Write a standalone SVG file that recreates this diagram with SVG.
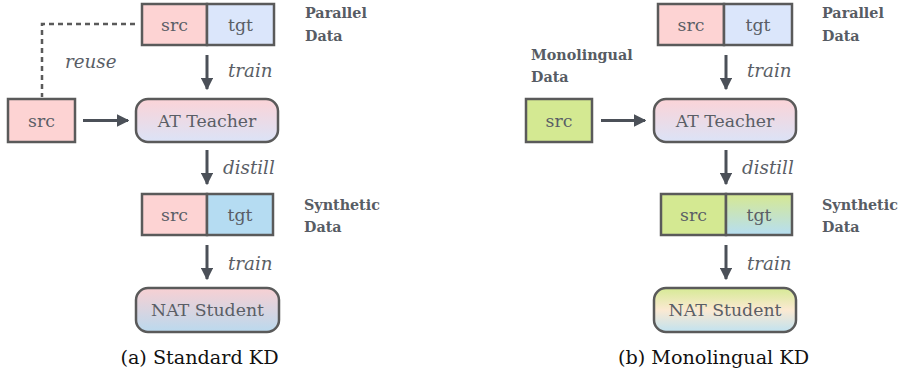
<svg xmlns="http://www.w3.org/2000/svg" width="899" height="373" viewBox="0 0 899 373">
<defs>
<style>
.box{stroke:#5a5a5a;stroke-width:2.5}
text{font-family:'DejaVu Serif',serif}
.t{font-size:17.3px;fill:#5a5e66;text-anchor:middle}
.it{font-size:18.3px;font-style:italic;fill:#5a5e66}
.lb{font-size:14.3px;font-weight:bold;fill:#575c64}
.cap{font-size:19.2px;fill:#111;text-anchor:middle}
.arr{stroke:#4b5058;stroke-width:3;fill:none;marker-end:url(#ah)}
</style>
<marker id="ah" viewBox="0 0 10 10" refX="9" refY="5" markerWidth="4.2" markerHeight="4.2" orient="auto" markerUnits="strokeWidth">
<path d="M0,0 L10,5 L0,10 Z" fill="#4b5058"/>
</marker>
<linearGradient id="gTeach" x1="0" y1="0" x2="0" y2="1">
<stop offset="0" stop-color="#fbd3d7"/><stop offset="1" stop-color="#dbe3f7"/>
</linearGradient>
<linearGradient id="gNatA" x1="0" y1="0" x2="0" y2="1">
<stop offset="0" stop-color="#f8d0d3"/><stop offset="1" stop-color="#bad9ee"/>
</linearGradient>
<linearGradient id="gNatB" x1="0" y1="0" x2="0" y2="1">
<stop offset="0" stop-color="#d6ea95"/><stop offset="0.5" stop-color="#fbe9d2"/><stop offset="1" stop-color="#c0e2f0"/>
</linearGradient>
<linearGradient id="gTgtB" x1="0" y1="0" x2="0" y2="1">
<stop offset="0" stop-color="#d6e892"/><stop offset="1" stop-color="#b6def2"/>
</linearGradient>
</defs>
<rect width="899" height="373" fill="#fff"/>

<g id="connectors">
<path d="M135,24 H42 V97" stroke="#5a5a5a" stroke-width="2.5" stroke-dasharray="5,4" fill="none"/>
<line class="arr" x1="207" y1="55" x2="207" y2="89"/>
<line class="arr" x1="83" y1="120.5" x2="128" y2="120.5"/>
<line class="arr" x1="207" y1="150" x2="207" y2="184"/>
<line class="arr" x1="207" y1="245" x2="207" y2="279"/>
<line class="arr" x1="726" y1="55" x2="726" y2="89"/>
<line class="arr" x1="601" y1="120.5" x2="645" y2="120.5"/>
<line class="arr" x1="726" y1="150" x2="726" y2="184"/>
<line class="arr" x1="726" y1="245" x2="726" y2="279"/>
<text class="it" x="65" y="68">reuse</text>
<text class="it" x="228" y="77">train</text>
<text class="it" x="223" y="174">distill</text>
<text class="it" x="228" y="270">train</text>
<text class="it" x="747" y="77">train</text>
<text class="it" x="742" y="174">distill</text>
<text class="it" x="747" y="270">train</text>
</g>

<g id="a-parallel">
<rect class="box" x="142" y="4" width="65" height="41" fill="#fdd3d3"/>
<rect class="box" x="207" y="4" width="67" height="41" fill="#dbe6fb"/>
<text class="t" x="174.5" y="31">src</text>
<text class="t" x="240.5" y="31">tgt</text>
<text class="lb" x="305" y="18">Parallel</text>
<text class="lb" x="305" y="41">Data</text>
</g>
<g id="a-src">
<rect class="box" x="8" y="99" width="67" height="43" fill="#fdd3d3"/>
<text class="t" x="41.5" y="127">src</text>
</g>
<g id="a-teacher">
<rect class="box" x="136" y="99" width="142" height="43" rx="12" fill="url(#gTeach)"/>
<text class="t" x="207" y="127">AT Teacher</text>
</g>
<g id="a-synthetic">
<rect class="box" x="142" y="194" width="65" height="41" fill="#fdd3d3"/>
<rect class="box" x="207" y="194" width="66" height="41" fill="#b5dcf2"/>
<text class="t" x="174.5" y="221">src</text>
<text class="t" x="240" y="221">tgt</text>
<text class="lb" x="304" y="210">Synthetic</text>
<text class="lb" x="304" y="232">Data</text>
</g>
<g id="a-student">
<rect class="box" x="136" y="288" width="143" height="44" rx="12" fill="url(#gNatA)"/>
<text class="t" x="207.5" y="316">NAT Student</text>
</g>
<text class="cap" x="199.5" y="364">(a) Standard KD</text>

<g id="b-parallel">
<rect class="box" x="658" y="4" width="66" height="41" fill="#fdd3d3"/>
<rect class="box" x="724" y="4" width="68" height="41" fill="#dbe6fb"/>
<text class="t" x="691" y="31">src</text>
<text class="t" x="758" y="31">tgt</text>
<text class="lb" x="822" y="18">Parallel</text>
<text class="lb" x="822" y="41">Data</text>
</g>
<g id="b-src">
<text class="lb" x="531" y="60">Monolingual</text>
<text class="lb" x="531" y="82">Data</text>
<rect class="box" x="526" y="99" width="66" height="43" fill="#d4e992"/>
<text class="t" x="559" y="127">src</text>
</g>
<g id="b-teacher">
<rect class="box" x="654" y="99" width="142" height="43" rx="12" fill="url(#gTeach)"/>
<text class="t" x="725" y="127">AT Teacher</text>
</g>
<g id="b-synthetic">
<rect class="box" x="661" y="194" width="65" height="41" fill="#d4e992"/>
<rect class="box" x="726" y="194" width="66" height="41" fill="url(#gTgtB)"/>
<text class="t" x="693.5" y="221">src</text>
<text class="t" x="759" y="221">tgt</text>
<text class="lb" x="822" y="210">Synthetic</text>
<text class="lb" x="822" y="232">Data</text>
</g>
<g id="b-student">
<rect class="box" x="654" y="288" width="142" height="44" rx="12" fill="url(#gNatB)"/>
<text class="t" x="725" y="316">NAT Student</text>
</g>
<text class="cap" x="713.5" y="364">(b) Monolingual KD</text>
</svg>
